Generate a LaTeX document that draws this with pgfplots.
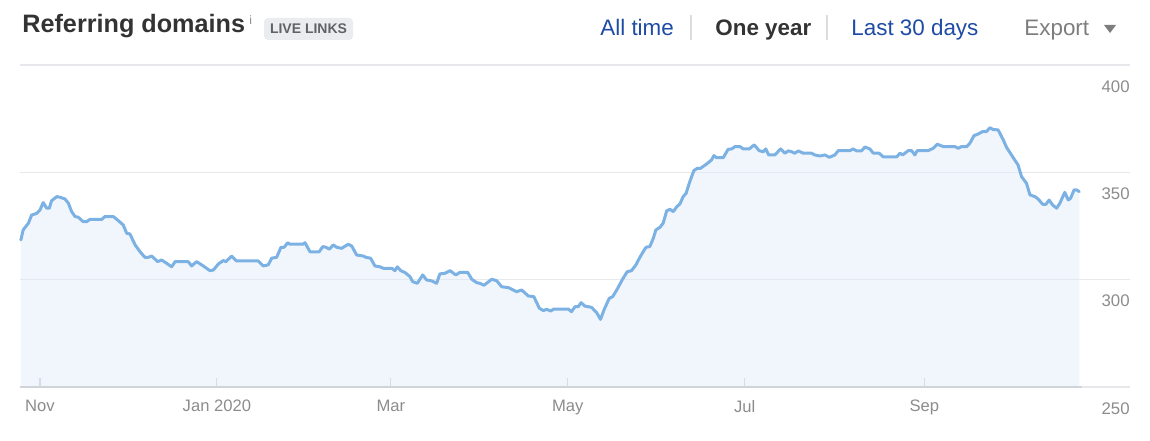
\documentclass[border=0pt]{standalone}
\usepackage{pgfplots}
\pgfplotsset{compat=1.18}
\usepackage{pgfplotstable}
\usepackage{fontspec}
\setmainfont{Liberation Sans}
\definecolor{linkblue}{RGB}{30,75,165}
\definecolor{titlegray}{RGB}{51,51,51}
\definecolor{labelgray}{RGB}{140,140,140}
\definecolor{gridgray}{RGB}{230,232,235}
\definecolor{axisgray}{RGB}{208,211,216}
\definecolor{linecol}{RGB}{124,177,228}
\definecolor{fillcol}{RGB}{225,235,248}
\definecolor{badgebg}{RGB}{235,236,240}
\definecolor{badgetext}{RGB}{95,99,104}
\definecolor{exportgray}{RGB}{125,125,125}
\definecolor{sepgray}{RGB}{221,221,221}

\pgfplotstableread{
day val
-6.6 318.5
-5.8 323.2
-4.0 326.3
-2.9 330.1
-1.1 330.9
0.0 332.5
1.1 335.9
2.3 333.3
3.2 333.3
4.0 336.8
5.8 338.7
6.9 338.4
8.6 337.6
9.8 335.6
10.9 331.7
12.1 329.4
13.2 329.1
14.9 327.0
16.1 327.0
17.2 328.1
21.3 328.1
22.4 329.4
25.3 329.4
27.0 327.5
28.7 325.5
29.9 321.6
31.0 321.3
32.8 316.2
34.5 313.0
36.2 310.4
37.3 310.4
38.5 311.0
40.6 308.4
41.9 309.2
43.7 307.6
45.4 306.0
46.6 308.4
51.1 308.4
52.3 306.4
54.0 308.4
56.3 306.4
58.6 304.2
59.8 304.5
61.5 307.3
63.2 308.9
64.1 308.4
66.1 311.0
67.8 308.7
75.3 308.7
77.0 306.4
78.7 306.9
79.9 310.0
81.6 310.4
83.1 315.1
84.2 315.1
85.4 317.2
86.2 316.5
90.6 316.5
91.4 317.2
93.1 313.0
96.3 313.0
97.5 315.4
98.6 315.1
99.8 314.2
101.1 316.2
102.3 315.1
104.0 314.6
106.3 316.5
107.5 315.7
109.2 311.5
111.5 311.0
112.4 310.4
114.0 310.0
115.5 306.4
117.2 306.0
118.4 305.3
121.3 305.3
122.4 304.2
123.2 306.0
124.4 304.2
125.9 303.3
127.6 301.4
128.5 299.1
130.1 298.3
132.0 302.2
133.3 299.9
135.1 299.4
136.8 298.3
137.9 302.7
139.7 303.0
141.4 304.2
143.4 302.2
144.8 303.4
147.5 303.4
148.9 300.2
150.6 298.6
151.7 298.3
153.1 297.4
155.8 300.2
157.5 299.5
159.2 296.7
161.5 296.3
164.4 294.4
166.1 295.2
168.4 292.4
170.3 292.1
172.2 286.7
173.6 285.6
174.7 286.2
176.1 285.4
177.2 286.3
178.2 286.3
182.2 286.3
183.3 285.1
184.5 287.4
185.6 287.4
186.6 289.3
187.9 287.7
190.2 287.1
192.0 284.6
193.3 281.5
194.5 285.9
196.3 291.3
197.5 292.1
198.9 295.2
200.9 300.2
202.5 303.7
204.0 304.2
205.5 306.9
206.7 310.0
208.0 313.0
209.0 315.1
210.3 315.4
211.5 319.3
212.4 323.2
213.8 324.4
214.9 326.3
216.1 332.0
217.2 332.8
218.4 331.7
219.6 334.0
220.7 335.3
221.8 338.7
222.8 340.2
224.1 345.7
225.5 350.8
226.7 351.9
227.8 351.9
229.9 353.9
231.6 355.8
232.4 357.8
233.3 356.8
235.6 356.8
237.3 360.7
238.5 360.9
239.7 362.0
241.4 362.0
242.5 360.9
244.6 360.9
246.3 362.8
248.0 360.1
249.4 359.6
250.3 360.9
251.3 358.1
253.4 358.1
255.4 360.9
256.9 358.9
258.0 360.0
259.2 359.6
260.3 358.9
261.5 360.0
263.2 358.9
266.1 358.9
267.2 358.1
269.0 357.6
270.7 358.1
272.2 357.0
274.1 358.1
275.3 360.1
279.3 360.1
280.4 360.9
281.6 360.0
283.3 360.0
284.5 361.8
286.2 360.9
287.3 359.0
289.4 358.9
290.8 357.2
295.4 357.2
296.6 358.9
297.5 358.1
299.4 360.1
300.6 360.1
301.7 358.1
302.5 360.1
306.3 360.1
308.0 361.2
309.4 363.1
311.5 362.0
315.5 362.0
316.7 361.2
317.8 362.0
319.6 362.0
320.7 363.6
322.1 367.1
323.6 367.9
325.1 369.0
326.4 369.0
327.6 370.8
328.7 369.9
330.4 369.8
332.2 365.1
333.3 361.7
335.4 357.3
337.3 353.4
338.5 348.0
340.2 344.9
341.4 339.5
343.1 338.7
344.2 337.6
345.8 335.1
346.9 335.1
348.0 337.1
349.2 334.8
350.6 333.3
351.7 335.6
353.4 340.7
354.6 337.1
355.4 337.9
356.6 341.8
357.5 341.8
358.4 341.0
}\rdtable

\begin{document}
\begin{tikzpicture}
\useasboundingbox (0,0) rectangle (575pt,220pt);
% header
\node[anchor=base west, inner sep=0pt, text=titlegray, font=\fontsize{12.6}{15}\selectfont\bfseries] at (11pt,203.5pt) {Referring domains};
\node[anchor=base west, inner sep=0pt, text=labelgray, font=\fontsize{6}{7}\selectfont] at (124.5pt,207.5pt) {i};
\fill[badgebg, rounded corners=2pt] (132pt,200pt) rectangle (176.5pt,211pt);
\node[anchor=center, inner sep=0pt, text=badgetext, font=\fontsize{7}{8}\selectfont\bfseries] at (154.25pt,205.5pt) {LIVE LINKS};
\node[anchor=base west, inner sep=0pt, text=linkblue, font=\fontsize{11.2}{13}\selectfont] at (300pt,202pt) {All time};
\draw[sepgray, line width=0.6pt] (345.5pt,200pt) -- (345.5pt,212.5pt);
\node[anchor=base west, inner sep=0pt, text=titlegray, font=\fontsize{11.2}{13}\selectfont\bfseries] at (357.5pt,202pt) {One year};
\draw[sepgray, line width=0.6pt] (413.5pt,200pt) -- (413.5pt,212.5pt);
\node[anchor=base west, inner sep=0pt, text=linkblue, font=\fontsize{11.2}{13}\selectfont] at (425.5pt,202pt) {Last 30 days};
\node[anchor=base west, inner sep=0pt, text=exportgray, font=\fontsize{11.2}{13}\selectfont] at (512pt,202pt) {Export};
\fill[exportgray] (552pt,207.5pt) -- (558pt,207.5pt) -- (555pt,203.5pt) -- cycle;

\begin{axis}[
  at={(10pt,26.5pt)}, anchor=south west,
  width=555pt, height=161pt, scale only axis,
  xmin=-6.9, xmax=375.9, ymin=250, ymax=400,
  axis line style={draw=none},
  clip=false,
  xtick={0,61,121,182,243,305},
  xticklabels={Nov,Jan 2020,Mar,May,Jul,Sep},
  ytick={250,300,350,400},
  ymajorgrids,
  grid style={color=gridgray, line width=0.6pt},
  xtick pos=bottom,
  yticklabel pos=right,
  tick align=inside,
  major tick length=4.5pt,
  xtick style={draw=axisgray, line width=0.6pt},
  ytick style={draw=none},
  /pgf/number format/assume math mode=true,
  xticklabel style={font=\fontsize{8.3}{10}\selectfont, text=labelgray, yshift=-3pt},
  yticklabel style={font=\fontsize{8.4}{10}\selectfont, text=labelgray, anchor=north east, inner sep=0pt, yshift=-7.5pt},
]
\addplot[draw=none, fill=fillcol, fill opacity=0.45] table[x=day, y=val] {\rdtable} \closedcycle;
\draw[axisgray, line width=0.8pt] (axis cs:-6.9,250) -- (axis cs:359.5,250);
\addplot[linecol, line width=1.5pt, line join=round, line cap=round] table[x=day, y=val] {\rdtable};
\end{axis}
\end{tikzpicture}
\end{document}
